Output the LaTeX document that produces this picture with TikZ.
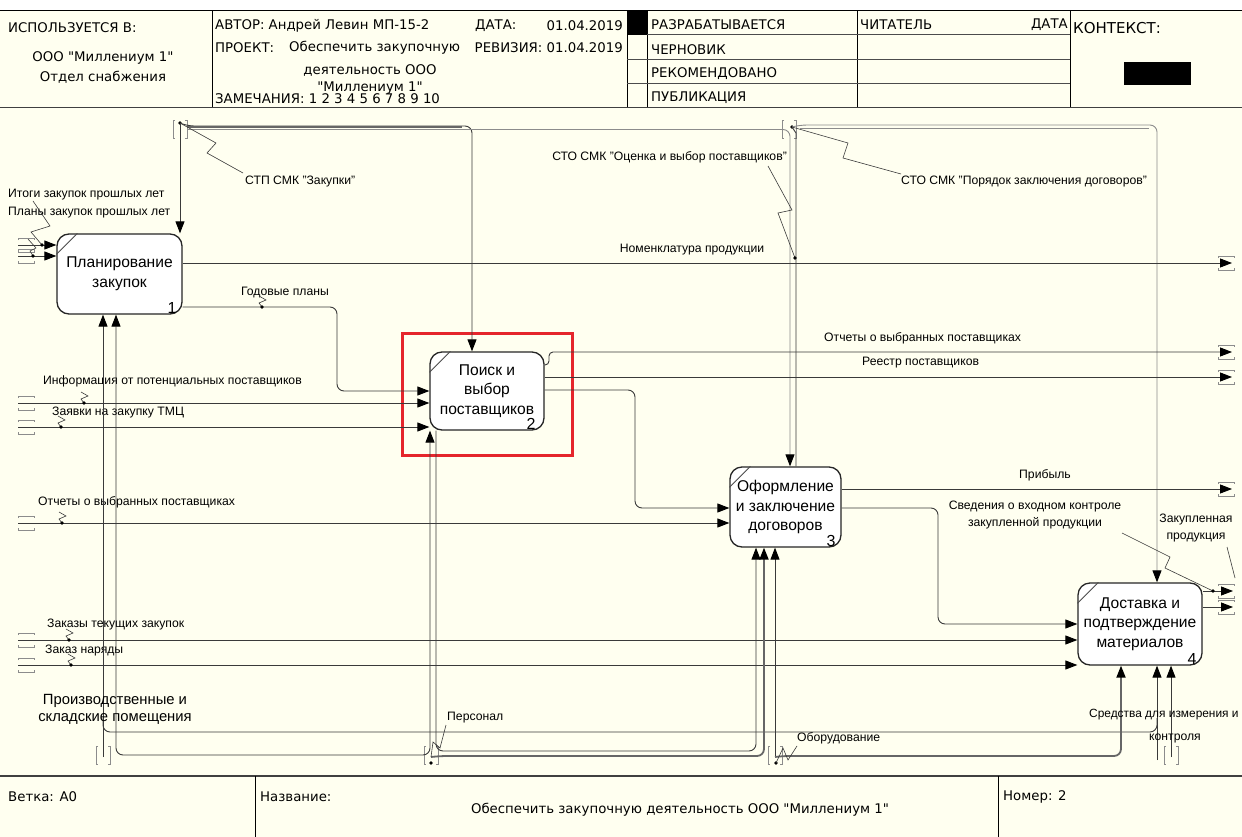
\documentclass[tikz,border=0pt]{standalone}
\usepackage{fontspec}
\setmainfont{Liberation Sans}
\newfontfamily\formfont{DejaVu Sans}
\usetikzlibrary{arrows.meta,calc}

\definecolor{paper}{HTML}{FFFFF0}
\definecolor{wire}{HTML}{3A3A3A}
\definecolor{wirelight}{HTML}{8C8C8C}
\definecolor{hilite}{HTML}{E5262C}

\tikzset{
  idef/.tip={Triangle[length=12pt,width=9pt,color=black]},
  conn/.style={draw=wire, line width=0.9pt},
  bus/.style={draw=wirelight, line width=0.9pt},
  thickbus/.style={draw=black!60, line width=1.8pt},
  arr/.style={-idef},
  rc/.style={rounded corners=7pt},
  func/.style={draw=black!85, line width=1.3pt, fill=white, rounded corners=12pt,
    inner sep=0pt, align=center, font=\fontsize{15.6}{19.5}\selectfont},
  fnum/.style={font=\fontsize{16}{16}\selectfont, inner sep=0pt, anchor=south east},
  lbl/.style={font=\fontsize{12.2}{14.5}\selectfont, inner sep=0pt},
  hdr/.style={font=\formfont\fontsize{13.3}{15}\selectfont, inner sep=0pt},
  squig/.style={draw=wire, line width=0.6pt},
  tun/.style={draw=wirelight, line width=0.8pt},
  tunh/.pic={\draw[tun] (-8,-5) -- (-8,-7) -- (8,-7) -- (8,-5);
             \draw[tun] (-8,5) -- (-8,7) -- (8,7) -- (8,5);},
  tunv/.pic={\draw[tun] (-5,-9) -- (-7,-9) -- (-7,9) -- (-5,9);
             \draw[tun] (5,-9) -- (7,-9) -- (7,9) -- (5,9);},
  zig/.pic={\draw[squig] (-3,-11) -- (4,-7) -- (-3,-4) -- (0,0);
            \fill (0,0) circle (1.8);},
}

\begin{document}
\begin{tikzpicture}[x=1pt,y=-1pt]
\fill[paper] (0,0) rectangle (1242,837);
\fill[white] (0,0) rectangle (1242,10);
\useasboundingbox (0,0) rectangle (1242,837);

%% ---------------- title block (top) ----------------
\draw[line width=1.2pt] (0,10.5) -- (1242,10.5);
\draw[line width=1.8pt, black!75] (0,107.5) -- (1242,107.5);
\foreach \x in {212,627,647,857,1070} \draw[line width=1pt] (\x,10.5) -- (\x,107.5);
\foreach \y in {35,60,84} \draw[line width=1pt, black!70] (627,\y) -- (1070,\y);
\fill (627,10.5) rectangle (647,35);
\fill (1124,62) rectangle (1191,85);

\node[hdr, anchor=west] (hUsed) at (8,28) {ИСПОЛЬЗУЕТСЯ В:};
\node[hdr] (hOrg) at (103,58) {ООО "Миллениум 1"};
\node[hdr] (hDept) at (103,77) {Отдел снабжения};
\node[hdr, anchor=west] (hAuth) at (215,26) {АВТОР: Андрей Левин МП-15-2};
\node[hdr, anchor=west] (hDate) at (475,26) {ДАТА:};
\node[hdr, anchor=east] (hDateV) at (623,26) {01.04.2019};
\node[hdr, anchor=west] (hProj) at (215,48) {ПРОЕКТ:};
\node[hdr, anchor=west] (hProjA) at (289,48) {Обеспечить закупочную};
\node[hdr, anchor=east] (hRev) at (623,48) {РЕВИЗИЯ: 01.04.2019};
\node[hdr] (hProjB) at (370,70) {деятельность ООО};
\node[hdr] (hProjC) at (370,88) {"Миллениум 1"};
\node[hdr, anchor=west] (hNotes) at (215,99) {ЗАМЕЧАНИЯ: 1 2 3 4 5 6 7 8 9 10};
\node[hdr, anchor=west] (hS1) at (651,25) {РАЗРАБАТЫВАЕТСЯ};
\node[hdr, anchor=west] (hS2) at (651,50) {ЧЕРНОВИК};
\node[hdr, anchor=west] (hS3) at (651,74) {РЕКОМЕНДОВАНО};
\node[hdr, anchor=west] (hS4) at (651,98) {ПУБЛИКАЦИЯ};
\node[hdr, anchor=west] (hRead) at (860,25) {ЧИТАТЕЛЬ};
\node[hdr, anchor=east] (hRDate) at (1068,25) {ДАТА};
\node[hdr, anchor=west, font=\formfont\fontsize{15}{17}\selectfont] (hCtx) at (1073,28) {КОНТЕКСТ:};

%% ---------------- activity boxes ----------------
\node[func, minimum width=125pt, minimum height=80pt] (b1) at (119.5,274) {Планирование\\закупок};
\node[func, minimum width=114pt, minimum height=78pt] (b2) at (487,391) {Поиск и\\выбор\\поставщиков};
\node[func, minimum width=111pt, minimum height=80pt] (b3) at (785.5,507) {Оформление\\и заключение\\договоров};
\node[func, minimum width=124pt, minimum height=82pt] (b4) at (1140,624) {Доставка и\\подтверждение\\материалов};
\foreach \b in {b1,b2,b3,b4}
  \draw[line width=0.9pt, black!70] ($(\b.north west)+(0,21)$) -- ($(\b.north west)+(21,0)$);
\node[fnum] (n1) at ($(b1.south east)+(-6,-1)$) {1};
\node[fnum] (n2) at ($(b2.south east)+(-9,-1)$) {2};
\node[fnum] (n3) at ($(b3.south east)+(-6,-1)$) {3};
\node[fnum] (n4) at ($(b4.south east)+(-6,-1)$) {4};

\node[draw=hilite, line width=3pt, minimum width=170pt, minimum height=122pt, inner sep=0pt] (focus) at (487.5,394) {};

%% ---------------- controls (top) ----------------
\coordinate (tA) at (180,123);
\coordinate (tB) at (792,127);
\pic at (180,129) {tunv};
\pic at (789,129) {tunv};
\fill (tA) circle (1.8);
\fill (tB) circle (1.8);

\draw[conn,arr] (tA) -- (tA |- b1.north);
\draw[conn,rc,arr] (tA) -- (187,126) -- (472,126) -- (472,126 |- b2.north);
\draw[thickbus] (187,127) -- (462,127);
\draw[bus,rc,arr] (187,129.5) -- (790,129.5) -- (790,129.5 |- b3.north);
\draw[conn] (tB) -- (796,133) -- (796,133 |- b3.north);
\draw[bus,rc,arr] (tB) -- (800,125) -- (1157,125) -- (1157,125 |- b4.north);
\draw[bus] (800,128) -- (1149,128);

\node[lbl, anchor=west] (lA) at (245,182) {СТП СМК "Закупки"};
\draw[squig] (tA) -- (216,143) -- (207,153) -- (243,173);
\node[lbl, anchor=east] (lC) at (787,157) {СТО СМК "Оценка и выбор поставщиков"};
\coordinate (dC) at (795,258);
\draw[squig] (768,166) -- (792,210) -- (778,213) -- (dC);
\fill (dC) circle (1.8);
\node[lbl, anchor=west] (lB) at (901,182) {СТО СМК "Порядок заключения договоров"};
\draw[squig] (tB) -- (848,143) -- (843,158) -- (901,174);

%% ---------------- box 1 ----------------
\coordinate (tI1) at (18,245);
\coordinate (tI2) at (18,256);
\pic at (26,245) {tunh};
\pic at (26,256) {tunh};
\draw[conn,arr] (tI1) -- (tI1 -| b1.west);
\draw[conn,arr] (tI2) -- (tI2 -| b1.west);
\node[lbl, anchor=west] (lI1) at (8,195) {Итоги закупок прошлых лет};
\node[lbl, anchor=west] (lI2) at (8,213) {Планы закупок прошлых лет};
\draw[squig] (33,201) -- (50,226) -- (31,232) -- (42,245);
\draw[squig] (28,239) -- (36,248) -- (30,251) -- (33,256);
\fill (42,245) circle (1.8);
\fill (33,256) circle (1.8);

\coordinate (oNom) at (1232,263);
\pic at (1226,263) {tunh};
\draw[conn,arr] (b1.east |- oNom) -- (oNom);
\node[lbl] (lNom) at (692,250) {Номенклатура продукции};

\draw[conn,rc,arr] (b1.east |- 0,307) -- (337,307) -- (337,391) -- (b2.west |- 0,391);
\node[lbl] (lGod) at (285,293) {Годовые планы};
\pic at (262,307) {zig};

%% ---------------- box 2 ----------------
\coordinate (tInf) at (18,403);
\coordinate (tZay) at (18,427);
\pic at (26,403) {tunh};
\pic at (26,427) {tunh};
\draw[conn,arr] (tInf) -- (tInf -| b2.west);
\draw[conn,arr] (tZay) -- (tZay -| b2.west);
\node[lbl, anchor=west] (lInf) at (43,381) {Информация от потенциальных поставщиков};
\node[lbl, anchor=west] (lZay) at (52,413) {Заявки на закупку ТМЦ};
\pic at (84,403) {zig};
\pic at (61,427) {zig};

\coordinate (oRep) at (1232,352);
\coordinate (oReg) at (1232,377);
\pic at (1226,352) {tunh};
\pic at (1226,377) {tunh};
\draw[conn,arr,rounded corners=4pt] (b2.east |- 0,365) -- (549,365) -- (549,352) -- (oRep);
\draw[conn,arr] (b2.east |- oReg) -- (oReg);
\node[lbl, anchor=west] (lRep) at (824,338) {Отчеты о выбранных поставщиках};
\node[lbl, anchor=west] (lReg) at (862,363) {Реестр поставщиков};
\draw[conn,rc,arr] (b2.east |- 0,390) -- (635,390) -- (635,508) -- (b3.west |- 0,508);

%% ---------------- box 3 ----------------
\coordinate (tOtc) at (18,523);
\pic at (26,523) {tunh};
\draw[conn,arr] (tOtc) -- (tOtc -| b3.west);
\node[lbl, anchor=west] (lOtc) at (38,502) {Отчеты о выбранных поставщиках};
\pic at (62,523) {zig};

\coordinate (oPr) at (1232,489);
\pic at (1226,489) {tunh};
\draw[conn,arr] (b3.east |- oPr) -- (oPr);
\node[lbl] (lPr) at (1045,475) {Прибыль};
\draw[conn,rc,arr] (b3.east |- 0,508) -- (938,508) -- (938,624) -- (b4.west |- 0,624);
\node[lbl, align=center, font=\fontsize{12.2}{17}\selectfont] (lSv) at (1035,515) {Сведения о входном контроле\\закупленной продукции};

%% ---------------- box 4 ----------------
\coordinate (tZak) at (18,640);
\coordinate (tNar) at (18,665);
\pic at (26,640) {tunh};
\pic at (26,665) {tunh};
\draw[conn,arr] (tZak) -- (tZak -| b4.west);
\draw[conn,arr] (tNar) -- (tNar -| b4.west);
\node[lbl, anchor=west] (lZak) at (47,625) {Заказы текущих закупок};
\node[lbl, anchor=west] (lNar) at (45,651) {Заказ наряды};
\pic at (69,640) {zig};
\pic at (71,665) {zig};

\coordinate (oZP1) at (1233,591);
\coordinate (oZP2) at (1233,607);
\pic at (1226,591) {tunh};
\pic at (1226,607) {tunh};
\draw[conn,arr] (b4.east |- oZP1) -- (oZP1);
\draw[conn,arr] (b4.east |- oZP2) -- (oZP2);
\node[lbl, align=center, font=\fontsize{12.2}{17}\selectfont] (lZP) at (1196,528) {Закупленная\\продукция};
\draw[squig] (1122,533) -- (1170,557) -- (1165,568) -- (1213,591);
\fill (1213,591) circle (1.8);
\draw[squig] (1227,547) -- (1235,578);

%% ---------------- mechanisms (bottom) ----------------
\coordinate (tP) at (103,757);
\coordinate (tPers) at (431,757);
\coordinate (tObo) at (775,757);
\coordinate (tSr) at (1171,757);
\pic at (103,755) {tunv};
\pic at (431,755) {tunv};
\pic at (775,755) {tunv};
\pic at (1171,755) {tunv};

\draw[conn,arr] (tP) -- (tP |- b1.south);
\draw[conn,rc] (103,718) -- (103,732) -- (1157,732) -- (1157,718);
\draw[conn,rc,idef-idef] (b1.south -| 116,0) -- (116,755) -- (430,755) -- (b2.south -| 430,0);
\draw[conn,rc,arr] (b2.south -| 436,0) -- (436,751) -- (756,751) -- (b3.south -| 756,0);
\draw[thickbus,rc,arr] (tPers) -- (440,756) -- (764,756) -- (b3.south -| 764,0);
\draw[conn,arr] (tObo) -- (tObo |- b3.south);
\draw[thickbus,rc,arr] (tObo) -- (782,756) -- (1121,756) -- (b4.south -| 1121,0);
\draw[conn,arr] (1157,760) -- (b4.south -| 1157,0);
\draw[conn,arr] (tSr) -- (tSr |- b4.south);
\fill (431,763) circle (1.8);
\fill (776,763) circle (1.8);

\node[align=center, inner sep=0pt, font=\fontsize{14.8}{17}\selectfont] (lProd) at (115,709) {Производственные и\\складские помещения};
\node[lbl, anchor=west] (lPers) at (447,718) {Персонал};
\draw[squig] (431,757) -- (433,742) -- (440,748) -- (446,725);
\node[lbl, anchor=west] (lObo) at (797,738) {Оборудование};
\draw[squig] (776,763) -- (783,748) -- (788,760) -- (797,746);
\node[lbl, anchor=west, font=\fontsize{11.9}{14}\selectfont] (lSr) at (1089,715) {Средства для измерения и};
\node[lbl] (lSr2) at (1175,738) {контроля};

%% ---------------- title block (bottom) ----------------
\draw[line width=1.8pt, black!75] (0,776) -- (1242,776);
\draw[line width=1pt] (255,776) -- (255,837);
\draw[line width=1pt] (998,776) -- (998,837);
\node[hdr, anchor=west] (fBr) at (8,797) {Ветка: А0};
\node[hdr, anchor=west] (fNm) at (260,797) {Название:};
\node[hdr] (fTitle) at (680,810) {Обеспечить закупочную деятельность ООО "Миллениум 1"};
\node[hdr, anchor=west] (fNo) at (1003,797) {Номер: 2};
\end{tikzpicture}
\end{document}
